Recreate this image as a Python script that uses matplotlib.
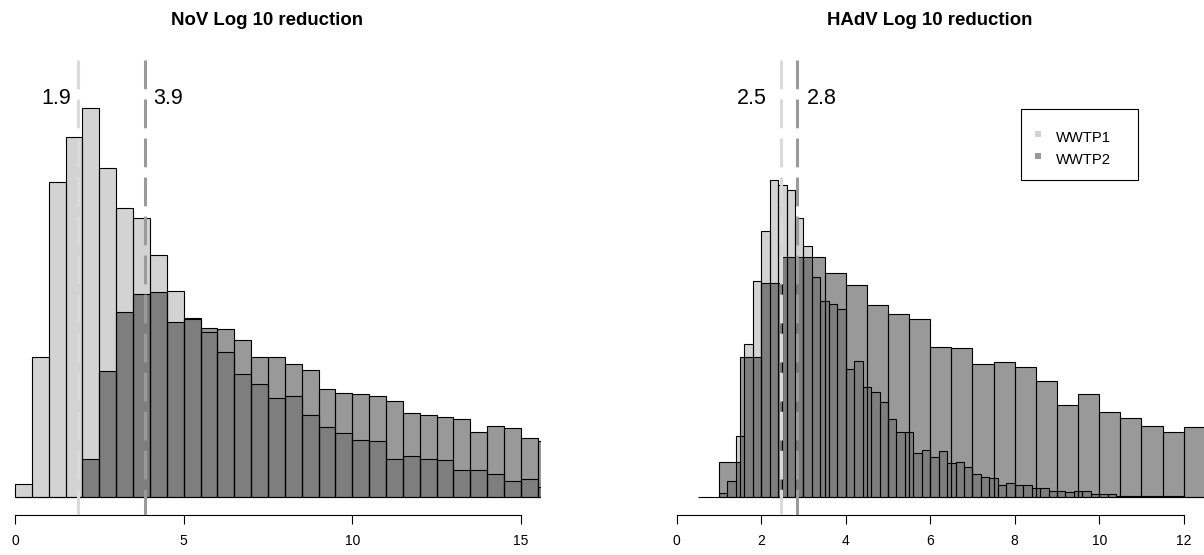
import numpy as np
import matplotlib
matplotlib.use("Agg")
import matplotlib.pyplot as plt
from matplotlib.lines import Line2D
from matplotlib.patches import Rectangle

plt.rcParams['font.family'] = ['Liberation Sans', 'DejaVu Sans']
plt.rcParams['lines.scale_dashes'] = False

# ---- data (bar heights, arbitrary count units) ----
series_names = ['WWTP1', 'WWTP2']

# NoV: both plants binned 0..16 by 0.5
nov_edges = np.arange(0, 16.01, 0.5)
nov_wwtp1 = [13.3, 140.7, 315.7, 360.7, 389.7, 329.7, 289.7, 279.7, 242.3, 206.7,
             179.0, 165.0, 145.0, 123.0, 113.3, 99.6, 101.0, 82.3, 70.0, 64.0,
             57.0, 56.0, 38.6, 41.3, 38.6, 37.6, 27.0, 27.0, 23.0, 16.6,
             18.3, 10.6]
nov_wwtp2 = [0, 0, 0, 0.5, 38.0, 126.0, 185.0, 203.3, 205.6, 175.0,
             178.3, 169.7, 168.0, 157.0, 140.6, 140.6, 133.0, 127.0, 108.6, 104.6,
             103.0, 101.6, 96.0, 84.0, 82.3, 80.3, 78.3, 65.0, 71.6, 69.0,
             59.0, 56.3]
nov_medians = [1.86, 3.86]

# HAdV: WWTP1 binned 1.0.. by 0.2, WWTP2 binned 0.5..12.5 by 0.5
hadv_edges1 = np.arange(1.0, 12.61, 0.2)
hadv_wwtp1 = [4.3, 16.3, 61.6, 153.3, 216.7, 266.7, 317.3, 312.3, 307.3, 279.0,
              251.3, 220.0, 196.3, 193.0, 188.0, 128.3, 136.6, 110.0, 105.6, 95.0,
              78.3, 65.6, 65.6, 44.6, 47.3, 40.6, 46.3, 34.0, 35.0, 30.6,
              23.0, 20.0, 19.0, 12.3, 14.3, 12.0, 12.0, 9.3, 9.3, 6.6,
              6.0, 5.0, 6.6, 6.6, 3.6, 3.6, 3.6, 1.6, 1.6, 1.6,
              1.6, 1.0, 1.6, 1.0, 1.6, 0.6, 0.3, 0.6]
hadv_edges2 = np.arange(0.5, 12.51, 0.5)
hadv_wwtp2 = [0.5, 35.6, 140.6, 214.0, 240.6, 240.6, 224.0, 212.3, 192.0, 183.3,
              178.3, 150.0, 149.0, 133.6, 135.6, 130.6, 116.0, 92.0, 103.6, 85.0,
              79.0, 71.6, 65.6, 70.6]
hadv_medians = [2.46, 2.84]

# ---- styling ----
W, H = 1204, 555
fill_cols = [(0, 0, 0, 0.173), (0, 0, 0, 0.40)]
line_cols = ['#DADADA', '#9A9A9A']


def fig_rect(x0, x1, y_top, y_bot):
    return [x0 / W, 1 - y_bot / H, (x1 - x0) / W, (y_bot - y_top) / H]


def draw_hist(ax, edges, heights, color):
    edges = np.asarray(edges)[:len(heights) + 1]
    ax.bar(edges[:-1], heights, width=np.diff(edges), align='edge',
           color=color, edgecolor='black', linewidth=0.8)


def style_axis(ax, xlim, ticks):
    ax.set_xlim(*xlim)
    ax.set_ylim(-17.7, 437.3)
    for s in ['left', 'top', 'right']:
        ax.spines[s].set_visible(False)
    ax.spines['bottom'].set_bounds(ticks[0], ticks[-1])
    ax.spines['bottom'].set_linewidth(0.8)
    ax.set_yticks([])
    ax.set_xticks(ticks)
    ax.tick_params(axis='x', direction='out', length=6.5, width=0.8,
                   labelsize=10, pad=7)
    ax.patch.set_alpha(0)


def draw_medians(ax, medians, gaps):
    for m, col, gap in zip(medians, line_cols, gaps):
        ax.plot([m, m], [1, 0], transform=ax.get_xaxis_transform(),
                color=col, lw=2.2, dashes=(20.7, 7.4), zorder=5)
        ax.annotate(f"{m:.1f}", xy=(m, 393.3), xytext=(gap, 0),
                    textcoords='offset points', ha='right' if gap < 0 else 'left',
                    va='baseline', fontsize=15.5)


fig = plt.figure(figsize=(W / 100, H / 100), dpi=100)

ax1 = fig.add_axes(fig_rect(-7, 541, 60, 515))
draw_hist(ax1, nov_edges, nov_wwtp1, fill_cols[0])
draw_hist(ax1, nov_edges, nov_wwtp2, fill_cols[1])
style_axis(ax1, ((-7 - 15) / 33.73, (541 - 15) / 33.73), [0, 5, 10, 15])
draw_medians(ax1, nov_medians, [-4.75, 6.0])
ax1.set_title('NoV Log 10 reduction', fontsize=13.4, fontweight='bold', pad=25.2)

ax2 = fig.add_axes(fig_rect(654.6, 1204, 60, 515))
draw_hist(ax2, hadv_edges1, hadv_wwtp1, fill_cols[0])
draw_hist(ax2, hadv_edges2, hadv_wwtp2, fill_cols[1])
style_axis(ax2, ((654.6 - 676.7) / 42.25, (1204 - 676.7) / 42.25),
           [0, 2, 4, 6, 8, 10, 12])
draw_medians(ax2, hadv_medians, [-10.1, 7.6])
ax2.set_title('HAdV Log 10 reduction', fontsize=13.4, fontweight='bold', pad=25.2)

# legend box (R-style, drawn in figure pixels)
fig.add_artist(Rectangle((1021 / W, 1 - 180.3 / H), (1137.7 - 1021) / W,
                         (180.3 - 109.3) / H, transform=fig.transFigure,
                         fill=False, edgecolor='black', linewidth=0.8))
for name, col, yc, yb in zip(series_names, fill_cols, [133.5, 156.0], [141.6, 164.0]):
    fig.add_artist(Line2D([1038.3 / W], [1 - yc / H], marker='s', markersize=5,
                          linestyle='none', color=col, markeredgewidth=0,
                          transform=fig.transFigure))
    fig.text(1056 / W, 1 - yb / H, name, fontsize=10.6, va='baseline')

fig.savefig('out.png', dpi=100)
